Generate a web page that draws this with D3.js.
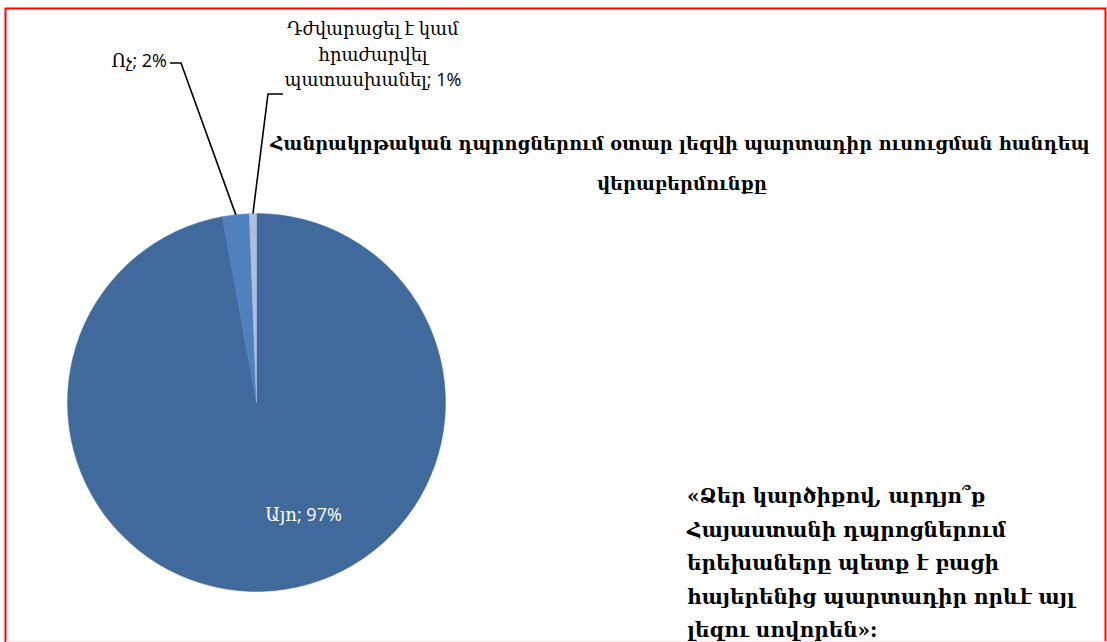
<!DOCTYPE html>
<html>
<head>
<meta charset="utf-8">
<script src="https://cdn.jsdelivr.net/npm/d3@7"></script>
<style>
html,body{margin:0;padding:0;background:#fff;}
svg{display:block;}
</style>
</head>
<body>
<svg id="chart" width="1107" height="642"></svg>
<script>
// ---- data ----
const categories = ["Այո", "Ոչ", "Դժվարացել է կամ հրաժարվել պատասխանել"];
const values = [97.1, 2.3, 0.6];
const labelTexts = ["Այո; 97%", "Ոչ; 2%", "Դժվարացել է կամ հրաժարվել պատասխանել; 1%"];
const titleLines = ["Հանրակրթական դպրոցներում օտար լեզվի պարտադիր ուսուցման հանդեպ", "վերաբերմունքը"];
const questionLines = ["«Ձեր կարծիքով, արդյո՞ք", "Հայաստանի դպրոցներում", "երեխաները պետք է բացի", "հայերենից պարտադիր որևէ այլ", "լեզու սովորեն»:"];
const colors = ["#406a9c", "#4f81bd", "#b0bddb"];

const svg = d3.select("#chart");

// border
svg.append("rect").attr("x", 5.5).attr("y", 8.5).attr("width", 1100).attr("height", 640)
  .attr("fill", "none").attr("stroke", "#ff0000").attr("stroke-width", 2);
svg.append("line").attr("x1", 6).attr("x2", 1107).attr("y1", 641.5).attr("y2", 641.5)
  .attr("stroke", "#fde2e8").attr("stroke-width", 1);

const cx = 256.5, cy = 402.5, r = 189;
const data = categories.map((c, i) => ({cat: c, value: values[i], label: labelTexts[i], color: colors[i]}));
const pie = d3.pie().value(d => d.value).sort(null);
const arcs = pie(data);
const arc = d3.arc().innerRadius(0).outerRadius(r);

const g = svg.append("g").attr("transform", `translate(${cx},${cy})`);
g.selectAll("path").data(arcs).enter().append("path")
  .attr("d", arc).attr("fill", d => d.data.color)
  .attr("stroke", d => d.data.color).attr("stroke-width", 0.5);

const lblFont = "'Open Sans', 'DejaVu Serif', serif";
const lblSize = "18px";

// inside label for big slice
g.append("text").attr("x", 47).attr("y", 118)
  .attr("text-anchor", "middle").attr("fill", "#fff")
  .style("font-family", lblFont).style("font-size", lblSize)
  .text(arcs[0].data.label);

// leader lines and outside labels
function edgePoint(a) {
  const m = (a.startAngle + a.endAngle) / 2;
  return [cx + r * Math.sin(m), cy - r * Math.cos(m)];
}
const p1 = edgePoint(arcs[1]);
svg.append("polyline").attr("points", `170,63 181,63 ${p1[0]},${p1[1]}`)
  .attr("fill", "none").attr("stroke", "#000").attr("stroke-width", 1.6);
svg.append("text").attr("x", 167).attr("y", 67).attr("text-anchor", "end")
  .style("font-family", lblFont).style("font-size", lblSize).attr("fill", "#000")
  .text(arcs[1].data.label);

const p2 = edgePoint(arcs[2]);
svg.append("polyline").attr("points", `283,94 268,94 ${p2[0]},${p2[1]}`)
  .attr("fill", "none").attr("stroke", "#000").attr("stroke-width", 1.6);
const l2 = ["Դժվարացել է կամ", "հրաժարվել", "պատասխանել; 1%"];
const t2 = svg.append("text").attr("text-anchor", "middle")
  .style("font-family", lblFont).style("font-size", lblSize).attr("fill", "#000");
l2.forEach((s, i) => t2.append("tspan").attr("x", 373).attr("y", 35 + i * 25.5).text(s));

// title
const titleFont = "'DejaVu Serif', serif";
const tt = svg.append("text").attr("text-anchor", "middle")
  .style("font-family", titleFont).style("font-size", "19px").style("font-weight", "bold").attr("fill", "#000");
tt.append("tspan").attr("x", 680).attr("y", 150).text(titleLines[0]);
tt.append("tspan").attr("x", 682).attr("y", 190).text(titleLines[1]);

// question text
const qt = svg.append("text").attr("text-anchor", "start")
  .style("font-family", titleFont).style("font-size", "21px").style("font-weight", "bold").attr("fill", "#000");
questionLines.forEach((s, i) => qt.append("tspan").attr("x", 687).attr("y", 503 + i * 33.5).text(s));

// fit title line widths
const tspans = tt.selectAll("tspan").nodes();
const w0 = tspans[0].getComputedTextLength();
if (w0 > 0) {
  const fs = Math.min(21, 19 * 820 / w0);
  tt.style("font-size", fs + "px");
}
const qspans = qt.selectAll("tspan").nodes();
const wq = qspans[3].getComputedTextLength();
if (wq > 0) {
  const fs = Math.min(24, 21 * 388 / wq);
  qt.style("font-size", fs + "px");
}
</script>
</body>
</html>
